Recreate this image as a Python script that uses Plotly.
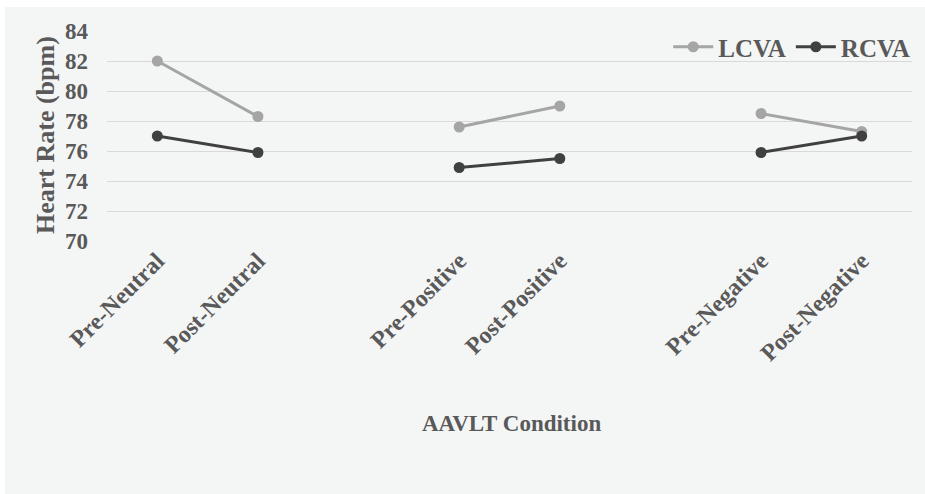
import plotly.graph_objects as go

categories = ["Pre-Neutral", "Post-Neutral", " ", "Pre-Positive", "Post-Positive", "  ", "Pre-Negative", "Post-Negative"]
conditions = ["Pre-Neutral", "Post-Neutral", "Pre-Positive", "Post-Positive", "Pre-Negative", "Post-Negative"]
lcva = [82.0, 78.3, 77.6, 79.0, 78.5, 77.3]
rcva = [77.0, 75.9, 74.9, 75.5, 75.9, 77.0]
groups = [(0, 2), (2, 4), (4, 6)]

W, H = 925, 494
OFF = 0  # body margin removed via post_script
# plot area in page pixels
PL, PR, PT, PB = 107, 912, 31, 241
pw, ph = PR - PL, PB - PT
ml, mt = PL - OFF, PT - OFF
mr = W - ml - pw
mb = H - mt - ph

def px(x):
    return (x - PL) / pw

def py(y):
    return (PB - y) / ph

FONT = "Liberation Serif"
TXT = "#595959"

fig = go.Figure()
series = [("LCVA", lcva, "#a5a5a5"), ("RCVA", rcva, "#404040")]
for name, vals, col in series:
    for gi, (a, b) in enumerate(groups):
        fig.add_trace(go.Scatter(
            x=conditions[a:b], y=vals[a:b], mode="lines+markers", name=name,
            legendgroup=name, showlegend=(gi == 0),
            line=dict(color=col, width=3), marker=dict(color=col, size=11),
        ))

# light grey panel (white strip at top and left)
fig.add_shape(type="rect", xref="paper", yref="paper", layer="below",
              x0=px(5), x1=px(930), y0=py(500), y1=py(7),
              fillcolor="#f4f5f5", line=dict(width=0))

fig.add_annotation(text="<b>AAVLT Condition</b>", xref="paper", yref="paper",
                   x=px(511), y=py(423), showarrow=False,
                   xanchor="center", yanchor="middle",
                   font=dict(family=FONT, size=23, color=TXT))
fig.add_annotation(text="<b>Heart Rate (bpm)</b>", xref="paper", yref="paper",
                   x=px(45), y=py(135), showarrow=False,
                   textangle=-90, xanchor="center", yanchor="middle",
                   font=dict(family=FONT, size=26, color=TXT))

fig.update_layout(
    width=W, height=H,
    margin=dict(l=ml, r=mr, t=mt, b=mb, autoexpand=False),
    paper_bgcolor="white", plot_bgcolor="rgba(0,0,0,0)",
    font=dict(family=FONT, color=TXT),
    legend=dict(orientation="h", x=1.004, xanchor="right", y=py(47), yanchor="middle",
                font=dict(family=FONT, size=25, color=TXT, weight="bold"),
                bgcolor="rgba(0,0,0,0)", itemwidth=40, tracegroupgap=0),
    xaxis=dict(type="category", categoryorder="array", categoryarray=categories,
               tickvals=categories, ticktext=[f"<b>{c}</b>" if c.strip() else "" for c in categories],
               range=[-0.5, 7.5], tickangle=-45, showgrid=False, showline=False, zeroline=False,
               automargin=False,
               tickfont=dict(family=FONT, size=24, color=TXT)),
    yaxis=dict(range=[70, 84], dtick=2, showgrid=True, gridcolor="#d9d9d9", gridwidth=1,
               zeroline=False, showline=False, automargin=False, ticklabelstandoff=18,
               tickfont=dict(family=FONT, size=23, color=TXT, weight="bold")),
)

fig.write_html("out.html", config={"displayModeBar": False},
               post_script="document.body.style.margin='0';document.body.style.overflow='hidden';")
